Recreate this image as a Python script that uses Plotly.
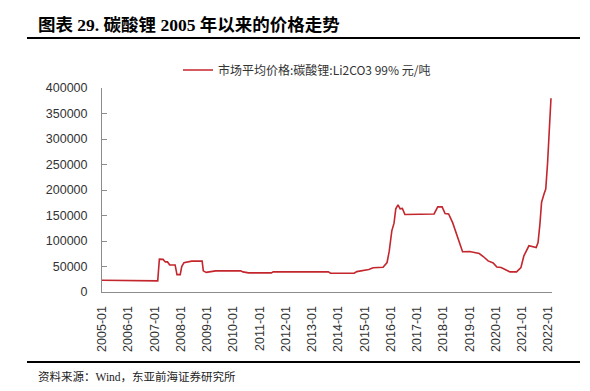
import plotly.graph_objects as go

dates = [
    "2005-01-01", "2006-02-01", "2006-03-01", "2007-02-15", "2007-03-10", "2007-05-01",
    "2007-06-01", "2007-07-01", "2007-08-01", "2007-10-15", "2007-11-10", "2007-12-25",
    "2008-01-15", "2008-02-15", "2008-06-01", "2008-10-25", "2008-11-10", "2008-12-20",
    "2009-02-01", "2009-05-01", "2010-04-15", "2010-05-15", "2010-08-01", "2011-06-15",
    "2011-07-10", "2013-08-15", "2013-09-15", "2014-08-10", "2014-09-15", "2015-03-01",
    "2015-05-01", "2015-09-15", "2015-11-10", "2015-12-10", "2016-01-15", "2016-02-15",
    "2016-03-10", "2016-04-10", "2016-05-10", "2016-06-10", "2016-07-15", "2017-08-25",
    "2017-10-15", "2017-12-15", "2018-01-25", "2018-03-15", "2018-05-10", "2018-06-25",
    "2018-08-15", "2018-09-25", "2019-01-01", "2019-05-15", "2019-07-10", "2019-09-15",
    "2019-11-25", "2020-01-15", "2020-03-15", "2020-07-15", "2020-10-15", "2020-12-15",
    "2021-01-25", "2021-03-10", "2021-04-05", "2021-07-15", "2021-08-10", "2021-09-05",
    "2021-09-28", "2021-11-01", "2021-11-25", "2021-12-20", "2022-01-12", "2022-02-06",
]
prices = [
    23000, 23000, 21800, 21800, 64500, 64000,
    59000, 59000, 53000, 53000, 34000, 34000,
    50000, 57500, 60500, 60500, 41500, 38500,
    39500, 41500, 41500, 39500, 37500, 37500,
    39500, 39500, 36800, 36800, 40000, 44000,
    47500, 48600, 57800, 80000, 120000, 135000,
    163000, 171000, 163000, 164000, 152000, 153000,
    167000, 167000, 154000, 153000, 136000, 117000,
    94000, 79000, 79500, 75500, 69600, 61000,
    57000, 49000, 48000, 39400, 39400, 48000,
    71000, 84000, 90600, 87000, 97000, 133000,
    176000, 192000, 202000, 252000, 317000, 380000,
]
tick_vals = [f"{y}-01-01" for y in range(2005, 2023)]
tick_text = [f"{y}-01" for y in range(2005, 2023)]
y_ticks = [0, 50000, 100000, 150000, 200000, 250000, 300000, 350000, 400000]

series_name = "市场平均价格:碳酸锂:Li2CO3 99% 元/吨"
title_text = "图表 29. 碳酸锂 2005 年以来的价格走势"
source_text = "资料来源：Wind，东亚前海证券研究所"

L, R, T, B = 102, 552, 88, 292
W, H = 590, 391
pw, ph = R - L, B - T


def px(x):
    return (x - L) / pw


def py(y):
    return (B - y) / ph


fig = go.Figure()
fig.add_trace(go.Scatter(
    x=dates, y=prices, mode="lines", name=series_name,
    line=dict(color="#C3262D", width=1.6),
    showlegend=True,
))

axis_font = dict(family="Liberation Sans, Arial, Noto Sans CJK SC", size=12.5, color="#333333")

fig.update_layout(
    width=W, height=H,
    margin=dict(l=L, r=W - R, t=T, b=H - B),
    paper_bgcolor="white", plot_bgcolor="white",
    showlegend=True,
    legend=dict(
        orientation="h", x=px(307), y=py(70), xanchor="center", yanchor="middle",
        font=dict(family="Noto Sans CJK SC", size=12, color="#333333"),
        itemwidth=30, bgcolor="rgba(0,0,0,0)",
    ),
    xaxis=dict(
        type="date", range=["2005-01-01", "2022-02-20"],
        tickvals=tick_vals, ticktext=tick_text, tickangle=-90,
        showgrid=False, zeroline=False, showline=True, linecolor="#8c8c8c", linewidth=1,
        ticks="", tickfont=axis_font, ticklabelstandoff=8,
    ),
    yaxis=dict(
        range=[0, 400000], tickvals=y_ticks, ticktext=[str(v) for v in y_ticks],
        showgrid=False, zeroline=False, showline=True, linecolor="#8c8c8c", linewidth=1,
        ticks="inside", ticklen=5, tickcolor="#8c8c8c", tickfont=axis_font,
        ticklabelstandoff=11,
    ),
    shapes=[
        dict(type="line", xref="paper", yref="paper", x0=px(27), x1=px(580), y0=py(38), y1=py(38),
             line=dict(color="black", width=2)),
        dict(type="line", xref="paper", yref="paper", x0=px(27), x1=px(580), y0=py(362), y1=py(362),
             line=dict(color="black", width=2)),
    ],
    annotations=[
        dict(text="<b>" + title_text + "</b>", xref="paper", yref="paper", x=px(36), y=py(25),
             xanchor="left", yanchor="middle", showarrow=False,
             font=dict(family="Liberation Serif, Noto Sans CJK SC", size=17.5, color="black")),
        dict(text=source_text, xref="paper", yref="paper", x=px(36), y=py(376),
             xanchor="left", yanchor="middle", showarrow=False,
             font=dict(family="Liberation Serif, Noto Sans CJK SC", size=11.5, color="#222222")),
    ],
)

fig.write_html(
    "out.html",
    config={"displayModeBar": False},
    post_script="document.body.style.margin='0';document.body.style.overflow='hidden';",
)
